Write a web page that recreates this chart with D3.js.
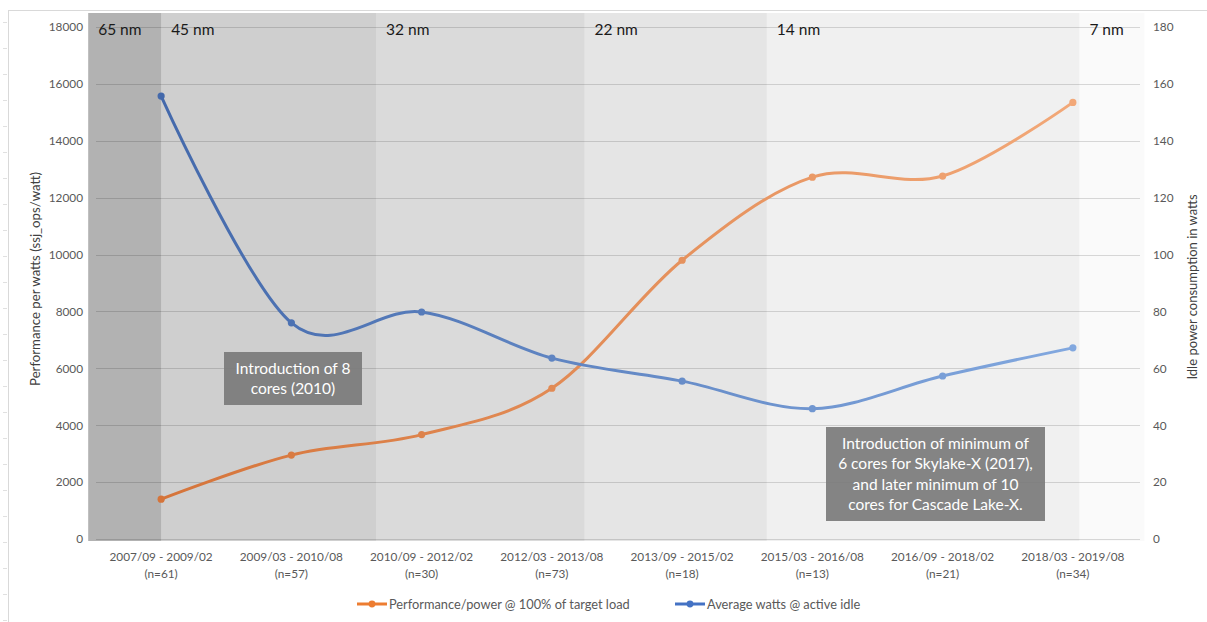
<!DOCTYPE html>
<html>
<head>
<meta charset="utf-8">
<script src="https://cdn.jsdelivr.net/npm/d3@7"></script>
<style>
  body { margin: 0; background: #fff; }
  svg { display: block; }
</style>
</head>
<body>
<svg id="chart" width="1207" height="622"></svg>
<script>
// --- data ---
const periods = ["2007/09 - 2009/02", "2009/03 - 2010/08", "2010/09 - 2012/02", "2012/03 - 2013/08",
                 "2013/09 - 2015/02", "2015/03 - 2016/08", "2016/09 - 2018/02", "2018/03 - 2019/08"];
const sampleCounts = [61, 57, 30, 73, 18, 13, 21, 34];
const perfPerWatt = [1400, 2950, 3670, 5300, 9800, 12720, 12760, 15350];
const idleWatts = [155.7, 76, 79.8, 63.6, 55.5, 45.8, 57.3, 67.2];
const leftTicks = [0, 2000, 4000, 6000, 8000, 10000, 12000, 14000, 16000, 18000];
const rightTicks = [0, 20, 40, 60, 80, 100, 120, 140, 160, 180];
// process nodes, start position in category index units
const processNodes = ["65 nm", "45 nm", "32 nm", "22 nm", "14 nm", "7 nm"];
const nodeStarts = [-0.56, 0, 1.65, 3.25, 4.65, 7.05];
const nodeEnd = 7.55;

const seriesNames = ["Performance/power @ 100% of target load", "Average watts @ active idle"];

const font = "Lato, 'Open Sans', sans-serif";
const shade = [0.30, 0.19, 0.145, 0.10, 0.06, 0.02];

const svg = d3.select('#chart');

const x = d3.scaleLinear().domain([-0.5, periods.length - 0.5]).range([96, 1138]);
const yL = d3.scaleLinear().domain([0, 18000]).range([539, 27]);
const yR = d3.scaleLinear().domain([0, 180]).range([539, 27]);

// outer frame
svg.append('line').attr('x1', 8).attr('x2', 1207).attr('y1', 10.5).attr('y2', 10.5)
    .attr('stroke', '#d9d9d9');
svg.append('line').attr('x1', 8.5).attr('x2', 8.5).attr('y1', 10).attr('y2', 622)
    .attr('stroke', '#d9d9d9');
svg.append('g').selectAll('line')
    .data(d3.range(22, 622, 26))
    .enter().append('line')
    .attr('x1', 3).attr('x2', 7)
    .attr('y1', d => d + 0.5).attr('y2', d => d + 0.5)
    .attr('stroke', '#e0e0e0');

// gradients for the series lines
const defs = svg.append('defs');
const grads = [
    {id: 'gOrange', from: '#d5743a', to: '#f2a878'},
    {id: 'gBlue', from: '#4469ab', to: '#82a8df'}
];
grads.forEach(g => {
    const lg = defs.append('linearGradient')
        .attr('id', g.id)
        .attr('gradientUnits', 'userSpaceOnUse')
        .attr('x1', x(0)).attr('x2', x(periods.length - 1))
        .attr('y1', 0).attr('y2', 0);
    lg.append('stop').attr('offset', '0%').style('stop-color', g.from);
    lg.append('stop').attr('offset', '100%').style('stop-color', g.to);
});

// process node bands
const bandTop = 13, bandBottom = yL(0) + 2;
const bands = processNodes.map((name, i) => ({
    name: name,
    x0: nodeStarts[i],
    x1: i < processNodes.length - 1 ? nodeStarts[i + 1] : nodeEnd,
    alpha: shade[i]
}));
svg.append('g').selectAll('rect')
    .data(bands)
    .enter().append('rect')
    .attr('x', d => x(d.x0))
    .attr('width', d => x(d.x1) - x(d.x0))
    .attr('y', bandTop)
    .attr('height', bandBottom - bandTop)
    .attr('fill', '#000')
    .attr('fill-opacity', d => d.alpha);

// gridlines
svg.append('g').selectAll('line')
    .data(leftTicks)
    .enter().append('line')
    .attr('x1', 96).attr('x2', 1140)
    .attr('y1', d => Math.round(yL(d)) + 0.5)
    .attr('y2', d => Math.round(yL(d)) + 0.5)
    .attr('stroke', '#000')
    .attr('stroke-opacity', 0.14);

svg.append('g').selectAll('text')
    .data(bands)
    .enter().append('text')
    .attr('x', d => x(d.x0) + 10)
    .attr('y', 35)
    .style('font-family', font)
    .style('font-size', '15.5px')
    .attr('fill', '#1a1a1a')
    .text(d => d.name);

// left axis
const axL = svg.append('g')
    .attr('transform', 'translate(83,0)')
    .call(d3.axisLeft(yL).tickValues(leftTicks).tickFormat(d3.format('d')).tickSize(0).tickPadding(0));
axL.select('.domain').remove();
axL.selectAll('text').style('font-family', font).style('font-size', '11.8px').attr('fill', '#595959');

const axR = svg.append('g')
    .attr('transform', 'translate(1153,0)')
    .call(d3.axisRight(yR).tickValues(rightTicks).tickFormat(d3.format('d')).tickSize(0).tickPadding(0));
axR.select('.domain').remove();
axR.selectAll('text').style('font-family', font).style('font-size', '11.8px').attr('fill', '#595959');

svg.append('text')
    .attr('transform', `translate(40,${(yL(0) + yL(18000)) / 2 - 4}) rotate(-90)`)
    .attr('text-anchor', 'middle')
    .style('font-family', font).style('font-size', '13.2px')
    .attr('fill', '#404040')
    .text('Performance per watts (ssj_ops/watt)');

svg.append('text')
    .attr('transform', `translate(1197,${(yL(0) + yL(18000)) / 2 + 4}) rotate(-90)`)
    .attr('text-anchor', 'middle')
    .style('font-family', font).style('font-size', '13px')
    .attr('fill', '#404040')
    .text('Idle power consumption in watts');

// category labels
const xl = svg.append('g').selectAll('text')
    .data(periods)
    .enter().append('text')
    .attr('text-anchor', 'middle')
    .style('font-family', font).style('font-size', '11.8px')
    .attr('fill', '#595959');
xl.append('tspan').attr('x', (d, i) => x(i)).attr('y', 561).text(d => d);
xl.append('tspan').attr('x', (d, i) => x(i)).attr('y', 578).text((d, i) => '(n=' + sampleCounts[i] + ')');

// series
const curve = d3.curveCardinal.tension(0);
const series = [
    {vals: perfPerWatt, y: yL, stroke: 'url(#gOrange)'},
    {vals: idleWatts, y: yR, stroke: 'url(#gBlue)'}
];
series.forEach(s => {
    const line = d3.line().x((d, i) => x(i)).y(d => s.y(d)).curve(curve);
    svg.append('path')
        .attr('d', line(s.vals))
        .attr('fill', 'none')
        .attr('stroke', s.stroke)
        .attr('stroke-width', 3)
        .attr('stroke-linecap', 'round');
    svg.append('g').selectAll('circle')
        .data(s.vals)
        .enter().append('circle')
        .attr('cx', (d, i) => x(i))
        .attr('cy', d => s.y(d))
        .attr('r', 3.6)
        .attr('fill', s.stroke);
});

// annotation boxes
const notes = [
    {x: 224, y: 352, w: 138, h: 53, lines: ['Introduction of 8', 'cores (2010)']},
    {x: 826, y: 427, w: 219, h: 94, lines: ['Introduction of minimum of', '6 cores for Skylake-X (2017),',
                                             'and later minimum of 10', 'cores for Cascade Lake-X.']}
];
notes.forEach(n => {
    svg.append('rect')
        .attr('x', n.x).attr('y', n.y).attr('width', n.w).attr('height', n.h)
        .attr('fill', '#7b7b7b').attr('fill-opacity', 0.92);
    const lh = 20.5;
    const top = n.y + n.h / 2 - (n.lines.length - 1) * lh / 2 + 5.5;
    svg.append('text')
        .attr('text-anchor', 'middle')
        .style('font-family', font).style('font-size', '15.5px')
        .attr('fill', '#fff')
        .selectAll('tspan')
        .data(n.lines)
        .enter().append('tspan')
        .attr('x', n.x + n.w / 2)
        .attr('y', (d, i) => top + i * lh)
        .text(d => d);
});

// legend
const legend = [
    {x: 357, color: '#ED7D31', name: seriesNames[0]},
    {x: 675, color: '#4472C4', name: seriesNames[1]}
];
const lg = svg.append('g').selectAll('g')
    .data(legend)
    .enter().append('g')
    .attr('transform', d => `translate(${d.x},604)`);
lg.append('line').attr('x1', 0).attr('x2', 30).attr('y1', 0).attr('y2', 0)
    .attr('stroke', d => d.color).attr('stroke-width', 3);
lg.append('circle').attr('cx', 15).attr('cy', 0).attr('r', 3.4).attr('fill', d => d.color);
lg.append('text').attr('x', 32).attr('y', 4.5)
    .style('font-family', font).style('font-size', '12.8px')
    .attr('fill', '#595959')
    .text(d => d.name);
</script>
</body>
</html>
